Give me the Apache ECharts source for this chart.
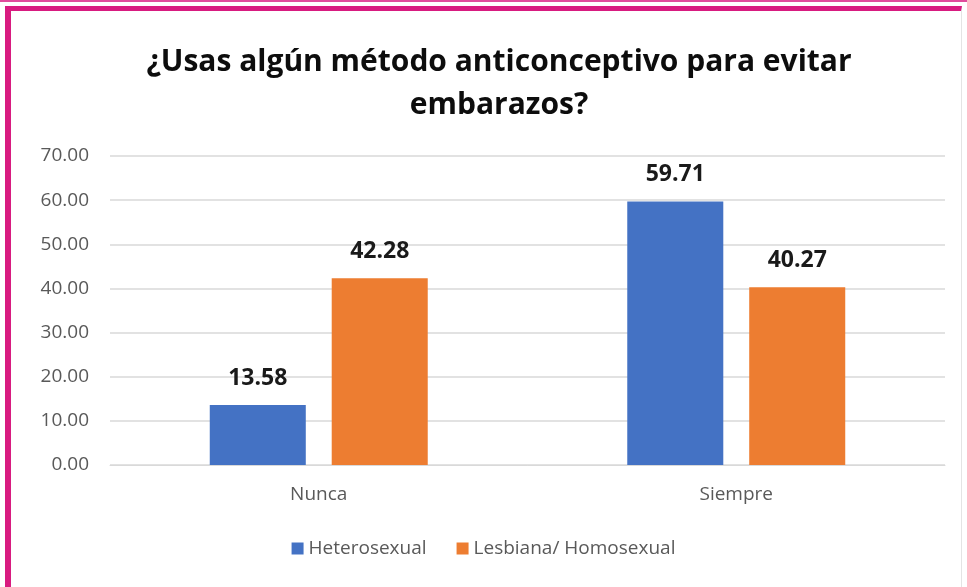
<!DOCTYPE html>
<html>
<head>
<meta charset="UTF-8">
<title>Método anticonceptivo</title>
<script src="https://cdn.jsdelivr.net/npm/echarts@6/dist/echarts.min.js"></script>
<style>
  html, body { margin: 0; padding: 0; background: #fff; overflow: hidden; }
  .topline { position: absolute; left: 0; top: 0; width: 967px; height: 2px; background: #e04c9c; }
  .frame { position: absolute; left: 5px; top: 6px; width: 950px; height: 590px;
           border-top: 5px solid #d81b80; border-left: 6px solid #d81b80; border-right: 1px solid #e4e4e4; }
  #main { position: absolute; left: 0; top: 0; width: 967px; height: 587px; }
</style>
</head>
<body>
<div class="topline"></div>
<div class="frame"></div>
<div id="main"></div>
<script>
  var categorias = ['Nunca', 'Siempre'];
  var heterosexual = [13.58, 59.71];
  var lesbianaHomosexual = [42.28, 40.27];

  var chart = echarts.init(document.getElementById('main'));
  var fuente = "'Open Sans', 'DejaVu Sans', sans-serif";

  var etiqueta = {
    show: true,
    position: 'top',
    distance: 15,
    fontFamily: fuente,
    fontSize: 23,
    fontWeight: 'bold',
    color: '#1a1a1a',
    formatter: function (p) { return p.value.toFixed(2); }
  };

  var option = {
    backgroundColor: 'transparent',
    textStyle: { fontFamily: fuente },
    title: {
      text: '¿Usas algún método anticonceptivo para evitar\nembarazos?',
      left: 494,
      top: 36,
      textAlign: 'center',
      textStyle: { fontFamily: fuente, fontSize: 30, fontWeight: 'bold', color: '#0d0d0d', lineHeight: 43 }
    },
    legend: {
      bottom: 24,
      left: 'center',
      itemWidth: 12,
      itemHeight: 12,
      itemGap: 30,
      icon: 'rect',
      textStyle: { fontFamily: fuente, fontSize: 19, color: '#595959' },
      data: ['Heterosexual', 'Lesbiana/ Homosexual']
    },
    grid: { left: 110, right: 22, top: 156, bottom: 122 },
    xAxis: {
      type: 'category',
      data: categorias,
      axisTick: { show: false },
      axisLine: { lineStyle: { color: '#d9d9d9' } },
      axisLabel: { fontFamily: fuente, fontSize: 19, color: '#595959', margin: 20 }
    },
    yAxis: {
      type: 'value',
      min: 0,
      max: 70,
      interval: 10,
      axisLine: { show: false },
      axisTick: { show: false },
      splitLine: { lineStyle: { color: '#d9d9d9', width: 1.5 } },
      axisLabel: {
        fontFamily: fuente, fontSize: 19, color: '#595959', margin: 21,
        formatter: function (v) { return v.toFixed(2); }
      }
    },
    series: [
      {
        name: 'Heterosexual',
        type: 'bar',
        data: heterosexual,
        barWidth: '23%',
        barGap: '27%',
        itemStyle: { color: '#4472c4' },
        label: etiqueta
      },
      {
        name: 'Lesbiana/ Homosexual',
        type: 'bar',
        data: lesbianaHomosexual,
        barWidth: '23%',
        itemStyle: { color: '#ed7d31' },
        label: etiqueta
      }
    ]
  };
  chart.setOption(option);
</script>
</body>
</html>
